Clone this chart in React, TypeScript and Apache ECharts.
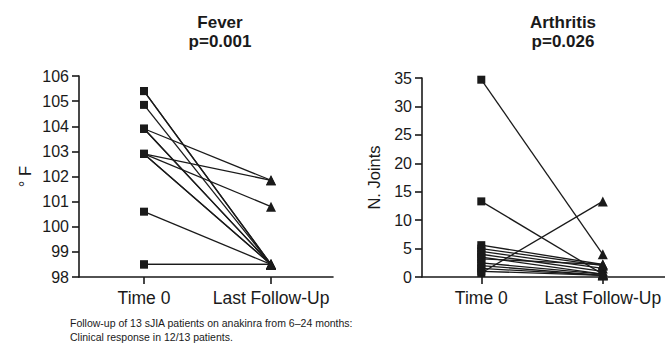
import React, { useEffect, useRef } from "react";
import * as echarts from "echarts";

const xCategories = ["Time 0", "Last Follow-Up"];

// Fever (°F): each patient's value at Time 0 and at Last Follow-Up
const feverTime0 = [105.4, 104.85, 103.9, 103.9, 103.9, 102.9, 102.9, 102.9, 102.9, 100.6, 98.5, 98.5, 105.4];
const feverFollowUp = [98.5, 98.5, 101.85, 98.5, 98.5, 101.85, 100.8, 98.5, 98.5, 98.5, 98.5, 98.5, 98.5];

// Arthritis (number of joints)
const jointsTime0 = [34.7, 13.3, 0.7, 5.6, 5.0, 4.5, 4.0, 3.5, 3.2, 2.5, 2.0, 1.5, 1.0];
const jointsFollowUp = [4.0, 0.5, 13.3, 2.2, 2.0, 1.5, 1.0, 0.5, 2.2, 0.5, 0.3, 0.3, 0.3];

const feverTicks = { min: 98, max: 106, interval: 1 };
const jointsTicks = { min: 0, max: 35, interval: 5 };

const titles = [
  { text: "Fever\np=0.001", center: 220 },
  { text: "Arthritis\np=0.026", center: 563 },
];
const footnote = [
  "Follow-up of 13 sJIA patients on anakinra from 6\u201324 months:",
  "Clinical response in 12/13 patients.",
];

const FONT = "'Liberation Sans', Arial, Helvetica, sans-serif";
const INK = "#1a1a1a";

function pairSeries(t0: number[], fu: number[], axisIndex: number) {
  return t0.map((v, i) => ({
    type: "line",
    xAxisIndex: axisIndex,
    yAxisIndex: axisIndex,
    data: [
      { value: [0, v], symbol: "rect", symbolSize: 8 },
      { value: [1, fu[i]], symbol: "triangle", symbolSize: 10 },
    ],
    lineStyle: { color: INK, width: 1.3 },
    itemStyle: { color: INK },
    showSymbol: true,
    z: 3,
    silent: true,
  }));
}

function xAxisDef(gridIndex: number, min: number, max: number) {
  return {
    type: "value",
    gridIndex,
    min,
    max,
    axisLine: { show: true, onZero: false, lineStyle: { color: INK, width: 1.6 } },
    axisTick: { show: true, customValues: [0, 1], length: 7, lineStyle: { color: INK, width: 1.6 } },
    axisLabel: {
      customValues: [0, 1],
      formatter: (v: number) => xCategories[Math.round(v)] ?? "",
      margin: 12,
      fontSize: 17.5,
      color: INK,
      fontFamily: FONT,
    },
    splitLine: { show: false },
  };
}

function yAxisDef(gridIndex: number, t: { min: number; max: number; interval: number }, name: string, nameGap: number) {
  return {
    type: "value",
    gridIndex,
    min: t.min,
    max: t.max,
    interval: t.interval,
    name,
    nameLocation: "middle",
    nameGap,
    nameTextStyle: { fontSize: 16.5, color: INK, fontFamily: FONT },
    axisLine: { show: true, onZero: false, lineStyle: { color: INK, width: 1.6 } },
    axisTick: { show: true, length: 7, lineStyle: { color: INK, width: 1.6 } },
    axisLabel: { margin: 10, fontSize: 16, color: INK, fontFamily: FONT },
    splitLine: { show: false },
  };
}

export default function App() {
  const ref = useRef<HTMLDivElement>(null);
  useEffect(() => {
    if (!ref.current) return;
    const chart = echarts.init(ref.current, undefined, { renderer: "svg" });
    chart.setOption({
      animation: false,
      backgroundColor: "#ffffff",
      title: titles.map((t) => ({
        text: t.text,
        left: t.center,
        top: 13,
        padding: 0,
        textAlign: "center",
        textStyle: { fontSize: 17, fontWeight: "bold", color: INK, fontFamily: FONT, lineHeight: 19 },
      })),
      grid: [
        { left: 79, top: 76, width: 254, height: 201 },
        { left: 422, top: 78, width: 254, height: 199 },
      ],
      xAxis: [xAxisDef(0, -0.512, 1.488), xAxisDef(1, -0.488, 1.512)],
      yAxis: [yAxisDef(0, feverTicks, "\u00b0 F", 46), yAxisDef(1, jointsTicks, "N. Joints", 40)],
      series: [...pairSeries(feverTime0, feverFollowUp, 0), ...pairSeries(jointsTime0, jointsFollowUp, 1)],
      graphic: [
        {
          type: "text",
          left: 70,
          top: 316,
          style: {
            text: footnote.join("\n"),
            font: `10.5px ${FONT}`,
            lineHeight: 14,
            fill: INK,
          },
        },
      ],
    });
    return () => chart.dispose();
  }, []);
  return <div ref={ref} style={{ width: 665, height: 364, position: "absolute", left: 0, top: 0 }} />;
}
